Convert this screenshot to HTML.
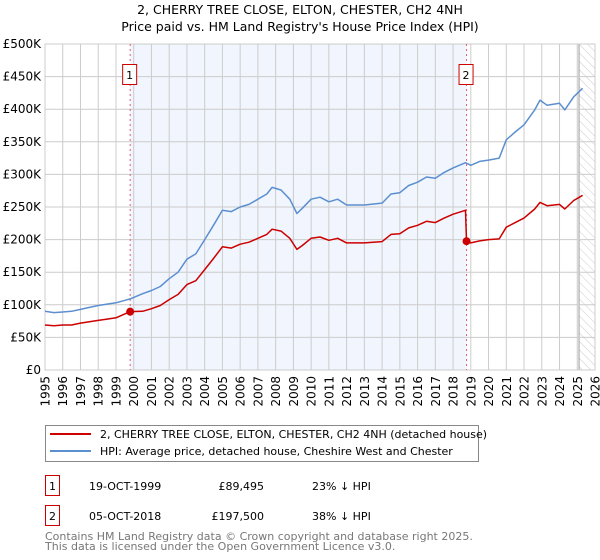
<!DOCTYPE html>
<html><head><meta charset="utf-8"><style>
body{margin:0;background:#fff;font-family:"DejaVu Sans","Liberation Sans",sans-serif;}
svg{display:block}
text{font-family:"DejaVu Sans","Liberation Sans",sans-serif;}
</style></head><body>
<svg id="chart" width="600" height="560">
<text x="300" y="14" text-anchor="middle" font-size="12.5" fill="#000">2, CHERRY TREE CLOSE, ELTON, CHESTER, CH2 4NH</text>
<text x="300" y="31" text-anchor="middle" font-size="12.5" fill="#000">Price paid vs. HM Land Registry's House Price Index (HPI)</text>
<g id="plot"></g>
<g>
<rect x="45.5" y="425.5" width="433" height="36" fill="#fff" stroke="#888"/>
<line x1="50" y1="434" x2="91" y2="434" stroke="#cc0000" stroke-width="2"/>
<text x="100" y="438" font-size="11">2, CHERRY TREE CLOSE, ELTON, CHESTER, CH2 4NH (detached house)</text>
<line x1="50" y1="451" x2="91" y2="451" stroke="#5b8fd0" stroke-width="2"/>
<text x="100" y="455" font-size="11">HPI: Average price, detached house, Cheshire West and Chester</text>
</g>
<g>
<rect x="45.5" y="475.5" width="14" height="20" fill="#fff" stroke="#cc0000"/>
<text x="52.5" y="490" text-anchor="middle" font-size="11">1</text>
<text x="89" y="490" font-size="11">19-OCT-1999</text>
<text x="264" y="490" font-size="11" text-anchor="end">£89,495</text>
<text x="312" y="490" font-size="11">23% ↓ HPI</text>
<rect x="45.5" y="505.5" width="14" height="20" fill="#fff" stroke="#cc0000"/>
<text x="52.5" y="520" text-anchor="middle" font-size="11">2</text>
<text x="89" y="520" font-size="11">05-OCT-2018</text>
<text x="264" y="520" font-size="11" text-anchor="end">£197,500</text>
<text x="312" y="520" font-size="11">38% ↓ HPI</text>
</g>
<text x="45" y="540" font-size="11" fill="#777">Contains HM Land Registry data © Crown copyright and database right 2025.</text>
<text x="45" y="550" font-size="11" fill="#777">This data is licensed under the Open Government Licence v3.0.</text>
</svg>
<script>
const hpiYears=[1995,1995.5,1996,1996.5,1997,1997.5,1998,1998.5,1999,1999.8,2000.5,2001,2001.5,2002,2002.5,2003,2003.5,2004,2004.5,2005,2005.5,2006,2006.5,2007,2007.5,2007.8,2008.3,2008.8,2009.2,2009.5,2010,2010.5,2011,2011.5,2012,2013,2014,2014.5,2015,2015.5,2016,2016.5,2017,2017.5,2018,2018.7,2019,2019.5,2020,2020.6,2021,2021.5,2022,2022.6,2022.9,2023.3,2024,2024.3,2024.8,2025.3];
const hpiValues=[90,88,89,90,93,96,99,101,103,109,117,122,128,140,150,170,178,200,222,245,243,250,254,262,270,280,276,262,240,248,262,265,258,262,253,253,256,270,272,283,288,296,294,303,310,318,314,320,322,325,353,365,376,399,414,406,409,399,419,432];
const priceYears=[1995,1995.5,1996,1996.5,1997,1997.5,1998,1998.5,1999,1999.8,2000.5,2001,2001.5,2002,2002.5,2003,2003.5,2004,2004.5,2005,2005.5,2006,2006.5,2007,2007.5,2007.8,2008.3,2008.8,2009.2,2009.5,2010,2010.5,2011,2011.5,2012,2013,2014,2014.5,2015,2015.5,2016,2016.5,2017,2017.5,2018,2018.7,2018.76,2019,2019.5,2020,2020.6,2021,2021.5,2022,2022.6,2022.9,2023.3,2024,2024.3,2024.8,2025.3];
const priceValues=[69,68,69,69,72,74,76,78,80,89.5,90,94,99,108,116,131,137,154,171,189,187,193,196,202,208,216,213,202,185,191,202,204,199,202,195,195,197,208,209,218,222,228,226,233,239,245,197.5,195,198,200,201,219,226,233,247,257,252,254,247,260,268];
const saleYears=[1999.8,2018.76];
const saleValues=[89.495,197.5];
const saleLabels=["1","2"];
const yTicks=[0,50,100,150,200,250,300,350,400,450,500];
const yTickLabels=["£0","£50K","£100K","£150K","£200K","£250K","£300K","£350K","£400K","£450K","£500K"];
const xTicks=[1995,1996,1997,1998,1999,2000,2001,2002,2003,2004,2005,2006,2007,2008,2009,2010,2011,2012,2013,2014,2015,2016,2017,2018,2019,2020,2021,2022,2023,2024,2025,2026];
const X0=45,X1=595,Y0=370,Y1=44,ymin=1995,ymax=2026,vmax=500;
const xs=y=>X0+(y-ymin)/(ymax-ymin)*(X1-X0);
const ys=v=>Y0-v/vmax*(Y0-Y1);
const NS="http://www.w3.org/2000/svg";
const g=document.getElementById('plot');
function mk(t,a,p){const e=document.createElementNS(NS,t);for(const k in a)e.setAttribute(k,a[k]);(p||g).appendChild(e);return e;}
let sh=mk('rect',{x:xs(saleYears[0]),y:Y1,width:xs(saleYears[1])-xs(saleYears[0]),height:Y0-Y1,fill:'#eef3fc',opacity:0.8});


const defs=mk('defs',{});
const pat=mk('pattern',{id:'hatch',width:6,height:6,patternUnits:'userSpaceOnUse',patternTransform:'rotate(-45)'},defs);
mk('line',{x1:0,y1:0,x2:0,y2:6,stroke:'#ccc','stroke-width':1},pat);
let ht=mk('rect',{x:xs(2025.1),y:Y1,width:X1-xs(2025.1),height:Y0-Y1,fill:'url(#hatch)'});


mk('line',{x1:xs(2025.1),y1:Y1,x2:xs(2025.1),y2:Y0,stroke:'#999','stroke-width':1});
yTicks.forEach((v,i)=>{
 mk('line',{x1:X0,x2:X1,y1:ys(v),y2:ys(v),stroke:'#cccccc','stroke-width':1});
 let t=mk('text',{x:X0-4,y:ys(v)+4,'text-anchor':'end','font-size':12,fill:'#000'});
 t.textContent=yTickLabels[i];
 
 
});
xTicks.forEach(yr=>{
 mk('line',{x1:xs(yr),x2:xs(yr),y1:Y1,y2:Y0,stroke:'#cccccc','stroke-width':1});
 const tx=xs(yr)+4.5, ty=376;
 let t=mk('text',{x:tx,y:ty,'text-anchor':'end','font-size':12,fill:'#000',transform:'rotate(-90 '+tx+' '+ty+')'});
 t.textContent=yr;
 
 
});
mk('rect',{x:X0,y:Y1,width:X1-X0,height:Y0-Y1,fill:'none',stroke:'#cccccc'});
saleYears.forEach((yr,i)=>{
 let l=mk('line',{x1:xs(yr),x2:xs(yr),y1:Y1,y2:Y0,stroke:'#e06070','stroke-width':1,'stroke-dasharray':'2,3'});
 
 
 let b=mk('rect',{x:xs(yr)-7.5,y:64.5,width:14,height:20,fill:'#fff',stroke:'#cc0000'});
 
 
 let t=mk('text',{x:xs(yr)-0.5,y:79,'text-anchor':'middle','font-size':11});
 t.textContent=saleLabels[i];
});
function path(xsA,vs){return xsA.map((y,i)=>(i?'L':'M')+xs(y).toFixed(1)+','+ys(vs[i]).toFixed(1)).join('');}
let hp=mk('path',{d:path(hpiYears,hpiValues),fill:'none',stroke:'#5b8fd0','stroke-width':1.5,'stroke-linejoin':'round'});


let pp=mk('path',{d:path(priceYears,priceValues),fill:'none',stroke:'#cc0000','stroke-width':1.5,'stroke-linejoin':'round'});


saleYears.forEach((yr,i)=>{
 let c=mk('circle',{cx:xs(yr),cy:ys(saleValues[i]),r:4,fill:'#cc0000'});
 
 
});
</script>
</body></html>
